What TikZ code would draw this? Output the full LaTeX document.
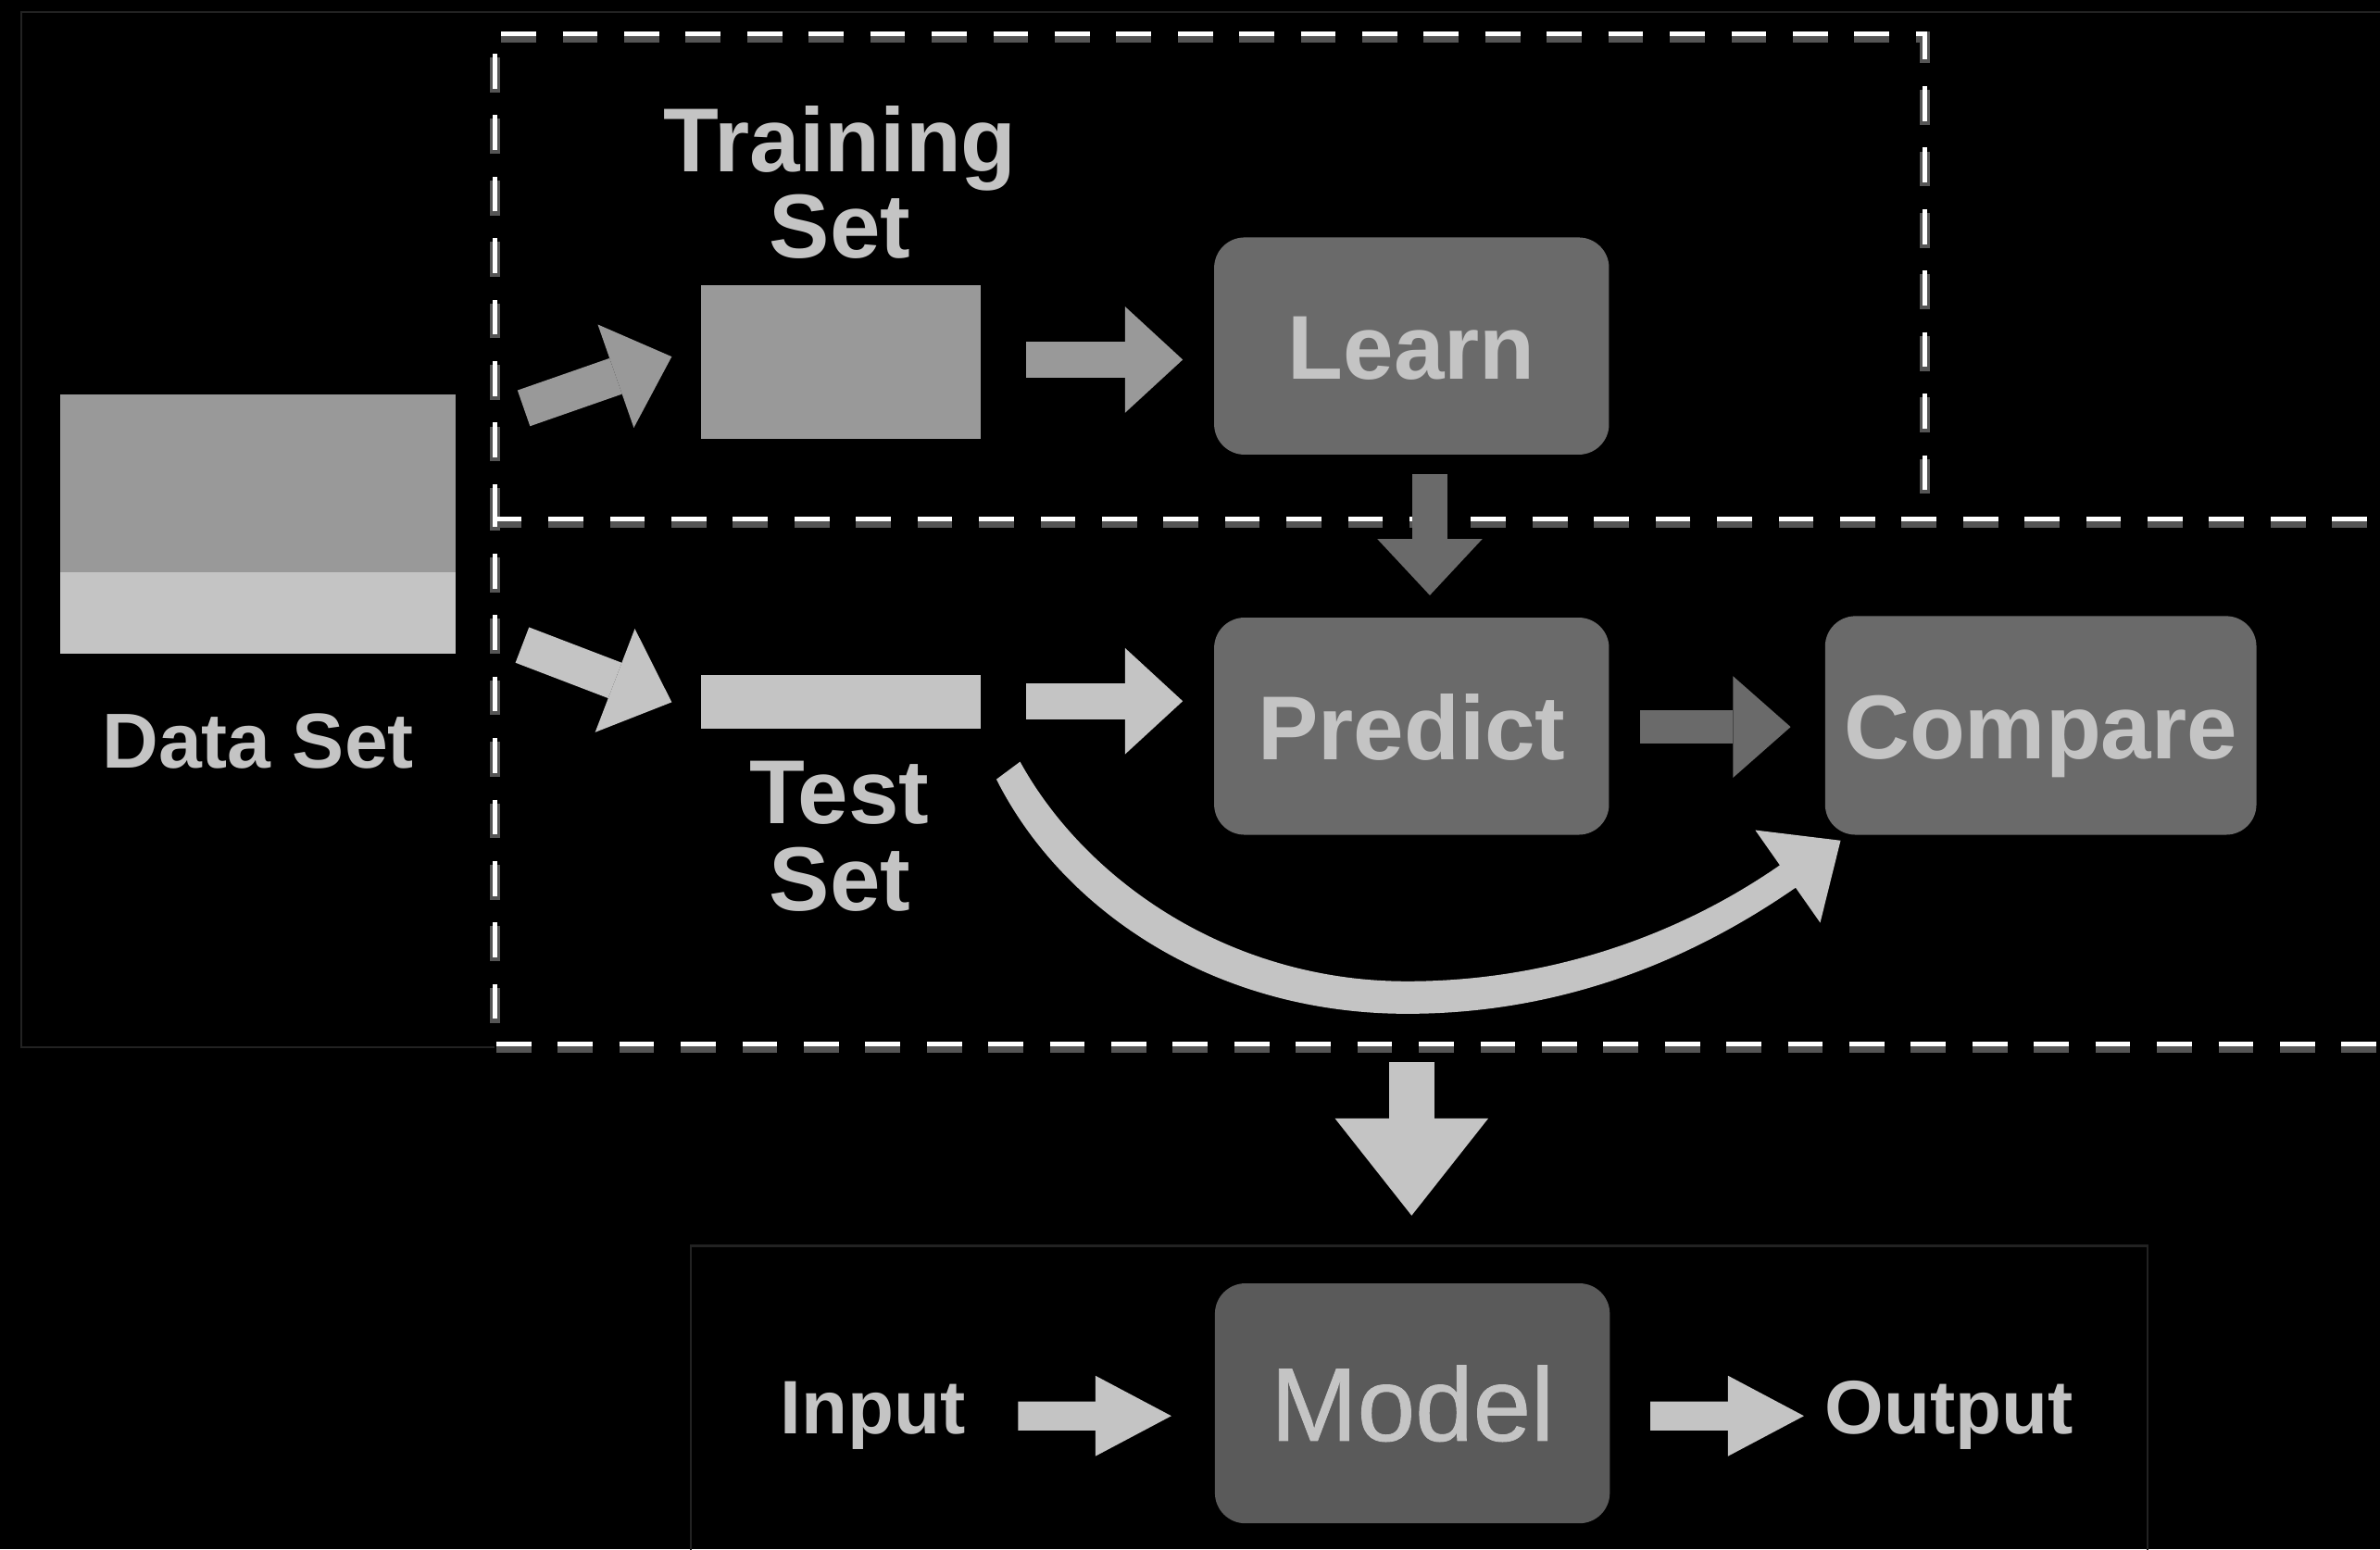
\documentclass[tikz,border=0pt]{standalone}
\usepackage{fontspec}
\setmainfont{Liberation Sans}
\newfontfamily\modelfont[FakeBold=0.8]{Liberation Sans}
\usetikzlibrary{arrows.meta,calc}
\definecolor{lightg}{HTML}{C4C4C4}
\definecolor{midg}{HTML}{999999}
\definecolor{boxg}{HTML}{6A6A6A}
\definecolor{modelg}{HTML}{5A5A5A}
\definecolor{frameg}{HTML}{222222}
\definecolor{shadeg}{HTML}{555555}
\begin{document}
\begin{tikzpicture}[x=0.01cm, y=-0.01cm,
  fat/.style n args={4}{draw=#1, line width=#2,
    -{Triangle[length=#3, width=#4, line width=0pt]}},
  lbl/.style={text=lightg, inner sep=0pt, font=\bfseries\fontsize{17}{20}\selectfont},
  box/.style={fill=boxg, rounded corners=0.2cm, minimum width=2.6cm,
    minimum height=1.43cm, inner sep=0pt, text=lightg,
    font=\bfseries\fontsize{17}{20}\selectfont, text height=12.4pt, text depth=0pt},
  block/.style={inner sep=0pt, outer sep=0pt},
  plain/.style={text=lightg, inner sep=0pt, font=\bfseries\fontsize{14.2}{17}\selectfont},
  dashline/.style={draw=white, line width=0.03cm, dash pattern=on 0.23cm off 0.175cm},
  dashshade/.style={draw=shadeg, line width=0.07cm, dash pattern=on 0.23cm off 0.175cm,
    transform canvas={yshift=-0.025cm}},
  thin frame/.style={draw=frameg, line width=0.015cm}]

% page
\fill[black] (0,0) rectangle (1568,1021);
\useasboundingbox (0,0) rectangle (1568,1021);
\clip (0,0) rectangle (1568,1021);

% faint outer frames
\draw[thin frame] (1600,8) -- (14,8) -- (14,690) -- (326,690);
\draw[thin frame] (455,1040) -- (455,821) -- (1415,821) -- (1415,1040);

% dashed group outlines
\coordinate (g1a) at (326,342);
\coordinate (g1b) at (326,22);
\coordinate (g1c) at (1268,22);
\coordinate (g1d) at (1268,333);
\coordinate (g2a) at (1600,342);
\coordinate (g2b) at (326,342);
\coordinate (g2c) at (326,688);
\coordinate (g2d) at (1600,688);
\foreach \st in {dashshade,dashline}{
  \draw[\st] (g1a) -- (g1b) -- (g1c) -- (g1d);
  \draw[\st] (g2a) -- (g2b) -- (g2c) -- (g2d);
}

% data blocks
\node[block, fill=midg, minimum width=2.6cm, minimum height=1.17cm] (dstrain) at (170,318.5) {};
\node[block, fill=lightg, minimum width=2.6cm, minimum height=0.54cm] (dstest) at (170,404) {};
\node[lbl, anchor=base, font=\bfseries\fontsize{14.6}{17}\selectfont] (dslabel) at (170,506) {Data Set};

\node[block, fill=midg, minimum width=1.84cm, minimum height=1.01cm] (trainset) at (554,238.5) {};
\node[lbl, anchor=base] (traintxt) at (553.5,113) {Training};
\node[lbl, anchor=base] (traintxtb) at (553.5,170) {Set};

\node[block, fill=lightg, minimum width=1.84cm, minimum height=0.35cm] (testset) at (554,462.5) {};
\node[lbl, anchor=base] (testtxt) at (553,543) {Test};
\node[lbl, anchor=base] (testtxtb) at (553.5,600) {Set};

% process boxes
\node[box] (learn) at (930,228) {Learn};
\node[box] (predict) at (930,478.5) {Predict};
\node[box, minimum width=2.84cm, minimum height=1.44cm] (compare) at (1344.5,478) {Compare};
\node[box, fill=modelg, minimum height=1.58cm, font=\modelfont\fontsize{19.5}{22}\selectfont,
  text height=14pt] (model) at (930.5,924.7) {Model};
\node[plain, anchor=base] (input) at (575,945) {Input};
\node[plain, anchor=base] (output) at (1284,945) {Output};

% connectors
\draw[fat={midg}{0.25cm}{0.39cm}{0.72cm}]
  ($(dstrain.east)+(45,-49.5)$) -- ($(trainset.west)+(-19.4,-3.5)$);
\draw[fat={lightg}{0.25cm}{0.40cm}{0.73cm}]
  ($(dstest.east)+(44,21)$) -- ($(testset.west)+(-19.4,0.2)$);
\draw[fat={midg}{0.24cm}{0.38cm}{0.70cm}]
  ($(trainset.east)+(30,-1.5)$) -- ($(learn.west)+(-20,9)$);
\draw[fat={lightg}{0.24cm}{0.38cm}{0.70cm}]
  ($(testset.east)+(30,-0.5)$) -- ($(predict.west)+(-20,-16.5)$);
\draw[fat={boxg}{0.23cm}{0.37cm}{0.69cm}]
  ($(learn.south)+(12,12)$) -- ($(predict.north)+(12,-14)$);
\draw[fat={boxg}{0.22cm}{0.38cm}{0.67cm}]
  ($(predict.east)+(20,0.5)$) -- ($(compare.west)+(-22,1)$);

% tapered bypass arrow from the test set round to Compare
\coordinate (bypassA) at ($(testset.south east)+(10.4,33.5)$);
\coordinate (bypassB) at ($(testset.south east)+(26,21.9)$);
\coordinate (bypassTip) at ($(compare.south west)+(10.9,3.1)$);
\fill[lightg] (bypassA) .. controls (700,600) and (800,668) .. (927,668)
  .. controls (1030,668) and (1115,632) .. (1183,584.9)
  -- (1199.2,608) -- (bypassTip) -- (1156.4,547) -- (1172.6,570.1)
  .. controls (1105,617) and (1020,646.6) .. (927,646.6)
  .. controls (810,646.6) and (715,580) .. (bypassB) -- cycle;

\coordinate (groupbottom) at (930,700);
\draw[fat={lightg}{0.30cm}{0.64cm}{1.01cm}]
  (groupbottom) -- ($(model.north)+(-0.5,-44)$);
\draw[fat={lightg}{0.19cm}{0.50cm}{0.53cm}]
  ($(input.base east)+(34,-12)$) -- ($(model.west)+(-28,8.3)$);
\draw[fat={lightg}{0.19cm}{0.50cm}{0.53cm}]
  ($(model.east)+(26,8.3)$) -- ($(output.base west)+(-13,-12)$);

\end{tikzpicture}
\end{document}
